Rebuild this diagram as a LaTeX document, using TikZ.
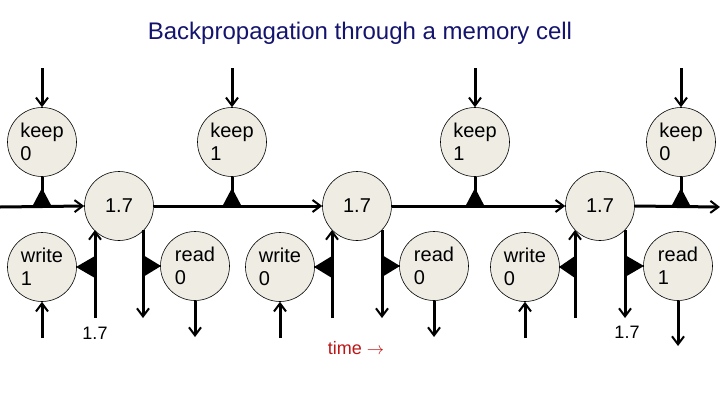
\documentclass[tikz,border=0pt]{standalone}
\usepackage{fontspec}
\setmainfont{Liberation Sans}
\usetikzlibrary{arrows.meta}
\begin{document}
\begin{tikzpicture}[x=1pt,y=-1pt,
  unit/.style={circle,draw=black,line width=0.6pt,fill={rgb,255:red,238;green,236;blue,227},minimum size=69pt,inner sep=0pt,align=left,font=\fontsize{20}{23}\selectfont},
  ln/.style={line width=3pt},
  arr/.style={ln,-{Straight Barb[length=8pt,width=12pt,line width=2pt]}},
  tri/.style={fill=black}]
\useasboundingbox (0,0) rectangle (720,405);
\node[text={rgb,255:red,20;green,20;blue,110},font=\fontsize{24}{28}\selectfont] (title) at (360,33) {Backpropagation through a memory cell};
% keep gates
\foreach \n/\x/\v in {k1/42/0,k2/232/1,k3/475/1,k4/681/0}{
  \node[unit] (\n) at (\x,142) {keep\\\v};
  \coordinate (\n top) at (\x,68);
  \coordinate (\n base) at (\x,207);
  \draw[arr] (\n top) -- (\n.north);
  \draw[ln] (\n.south) -- (\n base);
  \fill[tri] (\x-10,207) -- (\x,188) -- (\x+10,207) -- cycle;
}
% cells
\node[unit] (c1) at (119,206) {1.7};
\node[unit] (c2) at (357,206) {1.7};
\node[unit] (c3) at (600,206) {1.7};
\coordinate (start) at (0,207);
\coordinate (end) at (720,207);
\draw[arr] (start) -- (c1.west);
\draw[arr] (c1.east) -- (c2.west);
\draw[arr] (c2.east) -- (c3.west);
\draw[arr] (c3.east) -- (end);
% write / read
\foreach \i/\wx/\wv/\ux/\dx/\rx/\rv/\rl in {1/42/1/95/143/195/0/337,2/280/0/332/382/434/0/337,3/525/0/575/625/678/1/346}{
  \node[unit] (w\i) at (\wx,267) {write\\\wv};
  \node[unit] (r\i) at (\rx,266) {read\\\rv};
  \coordinate (win\i) at (\wx,338);
  \coordinate (rout\i) at (\rx,\rl);
  \coordinate (ub\i) at (\ux,318);
  \coordinate (db\i) at (\dx,318);
  \coordinate (ut\i) at (\ux,230);
  \coordinate (dt\i) at (\dx,230);
  \draw[arr] (win\i) -- (w\i.south);
  \draw[arr] (r\i.south) -- (rout\i);
  \draw[arr] (ub\i) -- (ut\i);
  \draw[arr] (dt\i) -- (db\i);
  \fill[tri] (\ux,256) -- (\wx+34,267) -- (\ux,278) -- cycle;
  \fill[tri] (\dx,255) -- (\rx-34,266) -- (\dx,277) -- cycle;
}
\node[font=\fontsize{18}{20}\selectfont] (l1) at (95,333) {1.7};
\node[font=\fontsize{18}{20}\selectfont] (l2) at (627,332) {1.7};
\node[text={rgb,255:red,190;green,20;blue,20},font=\fontsize{18}{20}\selectfont] (time) at (356,348) {time $\rightarrow$};
\end{tikzpicture}
\end{document}
